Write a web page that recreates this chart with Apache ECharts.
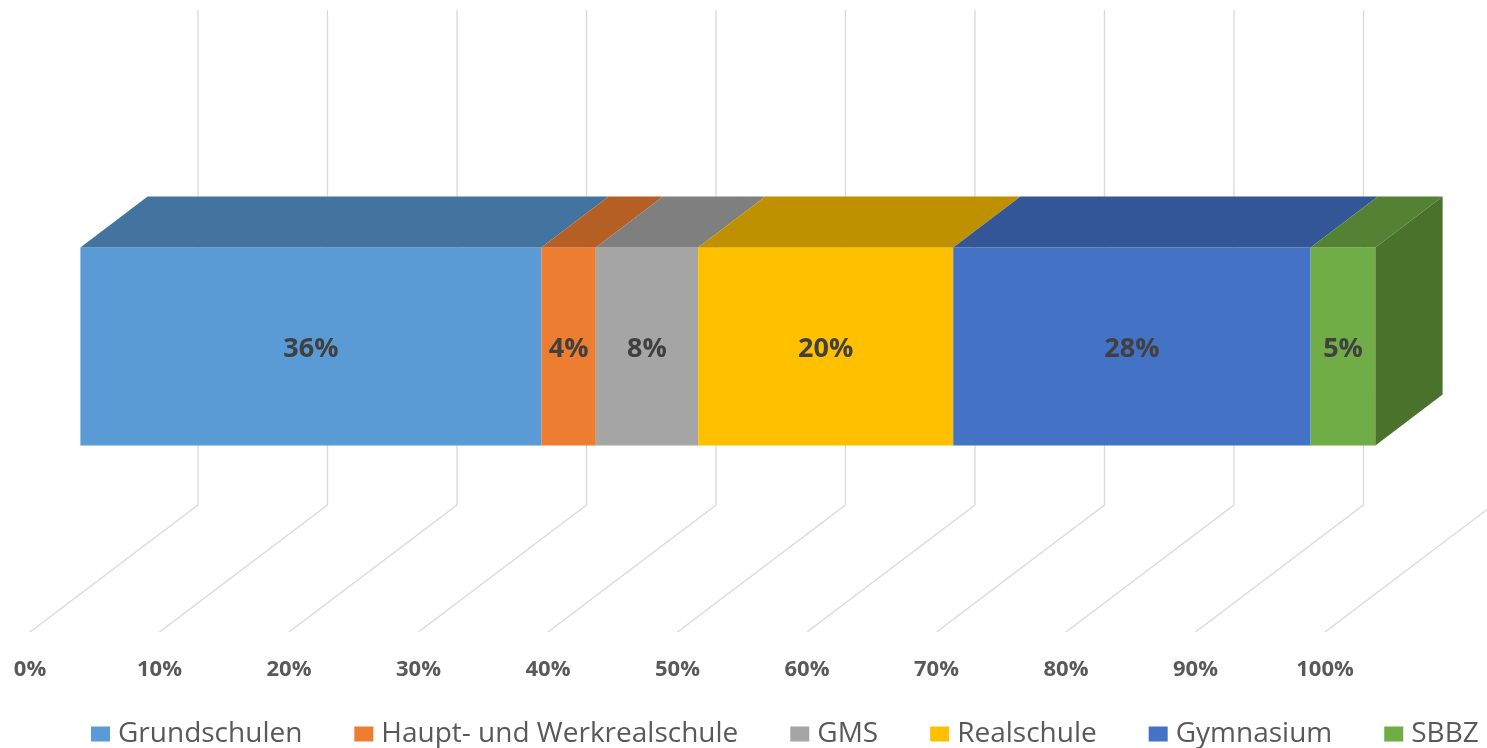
<!DOCTYPE html>
<html>
<head>
<meta charset="utf-8">
<script src="https://cdn.jsdelivr.net/npm/echarts@6/dist/echarts.min.js"></script>
<style>
html,body{margin:0;padding:0;background:#fff;}
#chart{width:1487px;height:748px;}
</style>
</head>
<body>
<div id="chart"></div>
<script>
// ---- data ----
const categories = ['Grundschulen', 'Haupt- und Werkrealschule', 'GMS', 'Realschule', 'Gymnasium', 'SBBZ'];
const shares = [35.6, 4.2, 7.9, 19.7, 27.6, 5.0];
const tickValues = [0, 10, 20, 30, 40, 50, 60, 70, 80, 90, 100];

// ---- styles ----
const frontColors = ['#5B9BD5', '#ED7D31', '#A5A5A5', '#FFC000', '#4472C4', '#70AD47'];
const topColors   = ['#43749F', '#B65F25', '#7F7F7F', '#BF9000', '#335696', '#548235'];
const sideColors  = ['#3A6690', '#A0521F', '#6F6F6F', '#A87E00', '#2C4C85', '#4A722B'];

// full depth offset of the 3D box in pixels
const DX = 168, DY = -127;
const BAR_D0 = 0.3, BAR_D1 = 0.7; // depth range of the bar
const BAR_H0 = 0.3, BAR_H1 = 0.7; // height range (y axis units)

const chart = echarts.init(document.getElementById('chart'));

function gridRender(params, api) {
  const v = api.value(0);
  const f = api.coord([v, 0]);
  const b = [f[0] + DX, f[1] + DY];
  const t = api.coord([v, 1]);
  const bt = [t[0] + DX, t[1] + DY];
  const style = { stroke: '#D9D9D9', lineWidth: 1.3, fill: null };
  return {
    type: 'group',
    children: [
      { type: 'line', shape: { x1: f[0], y1: f[1], x2: b[0], y2: b[1] }, style },
      { type: 'line', shape: { x1: b[0], y1: b[1], x2: bt[0], y2: bt[1] }, style }
    ]
  };
}

let cum = 0;
const segs = shares.map(v => { const s = [cum, cum + v, v]; cum += v; return s; });

function makeBarRender(idx) {
  return function (params, api) {
    const s = api.value(0), e = api.value(1), v = api.value(2);
    const ox = BAR_D0 * DX, oy = BAR_D0 * DY;
    const bx = (BAR_D1 - BAR_D0) * DX, by = (BAR_D1 - BAR_D0) * DY;
    const pBL = api.coord([s, BAR_H0]);
    const pTR = api.coord([e, BAR_H1]);
    const x1 = pBL[0] + ox, x2 = pTR[0] + ox;
    const yb = pBL[1] + oy, yt = pTR[1] + oy;
    const children = [
      { type: 'rect', shape: { x: x1, y: yt, width: x2 - x1, height: yb - yt },
        style: { fill: frontColors[idx] } },
      { type: 'polygon', shape: { points: [[x1, yt], [x2, yt], [x2 + bx, yt + by], [x1 + bx, yt + by]] },
        style: { fill: topColors[idx] } }
    ];
    if (idx === shares.length - 1) {
      children.push({ type: 'polygon', shape: { points: [[x2, yt], [x2 + bx, yt + by], [x2 + bx, yb + by], [x2, yb]] },
        style: { fill: sideColors[idx] } });
    }
    children.push({ type: 'text', x: (x1 + x2) / 2, y: (yt + yb) / 2 + 3,
      style: { text: Math.round(v) + '%', fill: '#404040', font: 'bold 27px "Open Sans"',
        align: 'center', verticalAlign: 'middle' } });
    return { type: 'group', children };
  };
}

const series = [{
  type: 'custom', name: '_grid', z: 1, silent: true,
  renderItem: gridRender, data: tickValues.map(t => [t]),
  encode: { x: 0 }, clip: false
}];
categories.forEach((c, i) => {
  series.push({
    type: 'custom', name: c, z: 5 + i,
    itemStyle: { color: frontColors[i] },
    renderItem: makeBarRender(i),
    data: [segs[i]], encode: { x: [0, 1] }, clip: false
  });
});

chart.setOption({
  animation: false,
  backgroundColor: '#fff',
  grid: { left: 30, right: 162, top: 137, bottom: 116 },
  xAxis: {
    type: 'value', min: 0, max: 100, interval: 10,
    axisLine: { show: false }, axisTick: { show: false }, splitLine: { show: false },
    axisLabel: { formatter: '{value}%', color: '#595959', fontWeight: 'bold',
      fontSize: 22, fontFamily: 'Open Sans', margin: 27 }
  },
  yAxis: { type: 'value', min: 0, max: 1, show: false },
  legend: {
    data: categories, left: 86, top: 715, icon: 'rect', itemWidth: 19, itemHeight: 15,
    itemGap: 52,
    textStyle: { color: '#595959', fontSize: 28, fontFamily: 'Open Sans', padding: [0, 0, 0, 3] }
  },
  series
});
</script>
</body>
</html>
